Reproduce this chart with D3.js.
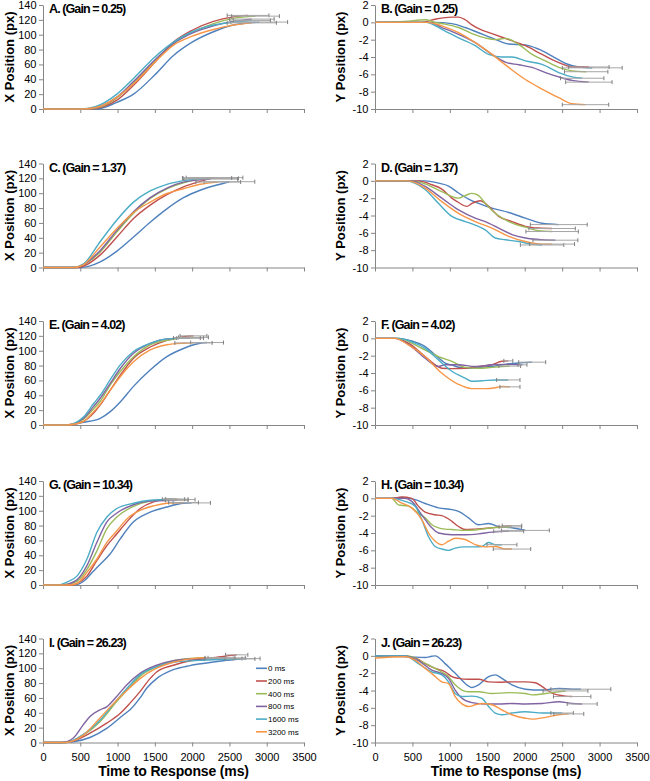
<!DOCTYPE html>
<html><head><meta charset="utf-8">
<script src="https://cdn.jsdelivr.net/npm/d3@7"></script>
<style>body{margin:0;background:#fff} svg{display:block} text{font-family:Arial,"Liberation Sans",sans-serif}</style>
</head><body><svg id="c" width="650" height="781"></svg>
<script>
const seriesNames = ["0 ms","200 ms","400 ms","800 ms","1600 ms","3200 ms"];
const seriesColors = ["#4F81BD","#C0504D","#9BBB59","#8064A2","#4BACC6","#F79646"];
const panelTitles = ["A. (Gain = 0.25)","B. (Gain = 0.25)","C. (Gain = 1.37)","D. (Gain = 1.37)","E. (Gain = 4.02)","F. (Gain = 4.02)","G. (Gain = 10.34)","H. (Gain = 10.34)","I. (Gain = 26.23)","J. (Gain = 26.23)"];
const timeTicks = [0,500,1000,1500,2000,2500,3000,3500];
const xPosTicks = [0,20,40,60,80,100,120,140];
const yPosTicks = [-10,-8,-6,-4,-2,0,2];

const panelA = [
 [[0,0],[720,0],[990,9],[1214,20],[1500,46],[1750,72],[2000,90],[2286,104],[2553,113],[2900,117]],
 [[0,0],[630,0],[800,3],[991,12],[1214,32],[1500,63],[1750,90],[2000,106],[2286,118],[2553,124],[2750,126]],
 [[0,0],[600,0],[800,4],[991,15],[1214,35],[1500,65],[1750,88],[2000,103],[2286,115],[2553,122],[2850,125]],
 [[0,0],[580,0],[800,5],[991,16],[1214,37],[1500,66],[1750,88],[2000,102],[2286,112],[2553,118],[2800,121]],
 [[0,0],[500,0],[700,3],[991,20],[1214,41],[1500,70],[1750,90],[2000,104],[2286,113],[2553,117],[2800,119]],
 [[0,0],[550,0],[800,5],[991,16],[1214,34],[1500,63],[1750,86],[2000,98],[2286,107],[2553,113],[2800,116]]
];
const errA = [380,280,320,300,250,330];

const panelB = [
 [[0,0],[800,0],[1027,-0.15],[1205,-0.6],[1384,-1.2],[1562,-1.8],[1786,-2.5],[2009,-2.6],[2187,-3.1],[2366,-3.9],[2545,-4.75],[2723,-5.15],[2902,-5.25]],
 [[0,0],[620,0],[800,0.35],[1027,0.6],[1116,0.6],[1205,0.3],[1295,-0.3],[1428,-0.9],[1562,-1.3],[1786,-2.0],[2009,-2.7],[2232,-3.7],[2455,-4.65],[2634,-5.15],[2857,-5.15]],
 [[0,0],[400,0.1],[670,0.3],[804,0],[937,-0.2],[1116,-0.6],[1295,-1.3],[1473,-1.8],[1607,-2.0],[1741,-1.85],[1920,-2.55],[2098,-3.7],[2277,-4.45],[2455,-5.2],[2634,-5.6],[2821,-5.7]],
 [[0,0],[720,0],[893,-0.6],[1116,-1.4],[1339,-2.35],[1562,-3.7],[1741,-4.6],[1920,-4.9],[2098,-5.2],[2277,-5.8],[2455,-6.3],[2634,-6.7],[2857,-6.9]],
 [[0,0],[680,0],[893,-0.8],[1116,-1.8],[1339,-2.7],[1518,-3.7],[1696,-4.0],[1830,-4.0],[2009,-4.45],[2232,-4.85],[2455,-5.8],[2634,-6.3],[2768,-6.45]],
 [[0,0],[700,0],[893,-0.4],[1116,-1.2],[1339,-2.35],[1562,-3.7],[1786,-5.2],[2009,-6.6],[2232,-7.7],[2455,-8.7],[2634,-9.4],[2812,-9.5]]
];
const errB = [400,270,290,310,290,310];

const panelC = [
 [[0,0],[500,0],[768,7.6],[991,22],[1214,41],[1437,61],[1661,79],[1884,94],[2107,104],[2330,111],[2500,115.5]],
 [[0,0],[450,0],[545,2],[768,17],[991,41],[1214,66],[1437,84],[1661,98],[1884,108.6],[2107,116],[2300,121]],
 [[0,0],[400,0],[545,4],[768,21],[991,48],[1214,73],[1437,93],[1661,106],[1884,114],[2107,119],[2250,120]],
 [[0,0],[400,0],[545,4],[768,23],[991,50],[1214,75],[1437,94],[1661,107],[1884,115],[2250,119]],
 [[0,0],[400,0],[545,5],[768,35],[991,64],[1214,88],[1437,103],[1661,112],[1884,117],[2200,120.5]],
 [[0,0],[400,0],[545,4],[768,28],[991,52.5],[1214,74],[1437,88],[1661,99.6],[1884,106],[2107,112],[2350,115]]
];
const errC = [340,380,370,360,330,300];

const panelD = [
 [[0,0],[670,0],[848,-0.27],[982,-0.6],[1116,-1.4],[1250,-2.1],[1384,-2.6],[1562,-3.15],[1786,-3.65],[2009,-4.3],[2232,-4.9],[2455,-5.05]],
 [[0,0],[580,0],[759,-0.45],[893,-0.95],[1027,-2.0],[1116,-2.5],[1228,-2.95],[1295,-2.6],[1406,-2.3],[1518,-2.95],[1652,-4.1],[1830,-4.7],[2009,-5.25],[2187,-5.45],[2366,-5.5]],
 [[0,0],[491,0],[670,-0.35],[893,-1.25],[1116,-2.0],[1205,-1.7],[1295,-1.45],[1384,-1.7],[1473,-2.6],[1607,-3.75],[1786,-4.7],[2009,-5.35],[2187,-5.75],[2366,-5.85]],
 [[0,0],[491,0],[670,-0.65],[893,-2.0],[1116,-3.35],[1339,-4.3],[1473,-4.7],[1652,-5.45],[1830,-6.2],[2009,-6.6],[2232,-6.8],[2410,-6.85]],
 [[0,0],[402,0],[670,-1.0],[848,-2.6],[1027,-4.1],[1205,-4.7],[1339,-5.1],[1473,-5.65],[1607,-6.6],[1741,-6.8],[1920,-7.0],[2098,-7.3],[2232,-7.4]],
 [[0,0],[446,0],[670,-0.85],[893,-2.4],[1116,-3.75],[1339,-4.7],[1562,-5.45],[1786,-6.4],[2009,-7.0],[2232,-7.3],[2366,-7.3]]
];
const errD = [380,310,350,300,290,300];

const panelE = [
 [[0,0],[321,0],[545,3.6],[768,9],[902,18],[1036,31],[1214,52],[1437,74],[1661,92],[1884,103],[2107,110],[2200,111]],
 [[0,0],[321,0],[545,5],[679,16],[768,27],[902,47],[1036,67],[1214,90],[1437,105],[1661,114],[1884,119],[2018,120]],
 [[0,0],[321,0],[545,8],[679,22],[768,32],[902,54],[1036,72],[1214,92],[1437,108],[1661,114],[1884,117.5],[2018,118]],
 [[0,0],[321,0],[545,9],[679,25],[768,36],[902,56],[1036,76],[1214,96.5],[1437,110],[1661,116],[1884,117],[1973,117]],
 [[0,0],[321,0],[545,11],[679,29],[768,40],[902,61],[1036,81],[1214,99],[1437,110],[1661,116],[1929,117]],
 [[0,0],[321,0],[545,5],[679,18],[768,28],[902,47],[1036,65],[1214,85],[1437,101],[1661,108],[1884,110],[2018,110.5]]
];
const errE = [220,180,200,180,180,250];

const panelF = [
 [[0,0],[312,0],[491,-0.3],[670,-0.95],[804,-1.9],[937,-2.85],[1027,-3.1],[1205,-3.45],[1384,-3.35],[1562,-3.25],[1741,-3.0],[1920,-2.85],[2100,-2.75]],
 [[0,0],[268,0],[446,-0.55],[670,-2.1],[804,-3.05],[893,-3.45],[1027,-3.5],[1205,-3.45],[1384,-3.25],[1562,-3.05],[1696,-2.65],[1781,-2.6]],
 [[0,0],[312,0],[491,-0.55],[670,-1.35],[848,-2.1],[1027,-2.65],[1205,-3.35],[1384,-3.45],[1562,-3.35],[1800,-3.2]],
 [[0,0],[268,0],[446,-0.7],[670,-2.3],[848,-3.25],[937,-3.05],[1116,-3.05],[1339,-3.25],[1562,-3.05],[1741,-3.0],[1970,-3.05]],
 [[0,0],[312,0],[491,-0.4],[670,-1.15],[848,-2.5],[1027,-3.8],[1205,-4.6],[1291,-4.95],[1428,-4.9],[1607,-4.8],[1781,-4.8]],
 [[0,0],[268,0],[446,-0.75],[668,-2.1],[890,-4.0],[1113,-5.3],[1291,-5.8],[1473,-5.8],[1607,-5.7],[1700,-5.55],[1803,-5.6]]
];
const errF = [180,60,145,60,156,134];

const panelG = [
 [[0,0],[411,0],[545,5],[679,19],[768,28],[902,42],[1036,62],[1214,85],[1437,98],[1661,105],[1884,110],[1995,110.5]],
 [[0,0],[380,0],[455,2],[589,12],[723,33],[857,53],[991,69],[1125,85],[1304,103],[1482,112],[1661,115.5],[1795,115.5]],
 [[0,0],[250,0],[455,5],[589,21],[723,46],[857,76],[991,91.5],[1214,106],[1437,113],[1661,115],[1839,115]],
 [[0,0],[250,0],[455,7],[589,26],[723,57.5],[857,85],[991,97],[1214,108],[1437,113],[1795,114]],
 [[0,0],[200,0],[321,4],[455,12],[589,35],[723,71],[857,91.5],[991,103],[1214,110],[1437,114],[1750,115.5]],
 [[0,0],[350,0],[455,2],[589,17],[723,35],[857,57.5],[991,73],[1125,89],[1304,100.5],[1482,106.5],[1661,110],[1884,111]]
];
const errG = [250,150,200,150,150,200];

const panelH = [
 [[0,0],[223,0],[357,0.1],[536,-0.15],[670,-0.6],[848,-1.1],[1027,-1.3],[1116,-1.5],[1250,-2.25],[1384,-3.05],[1518,-2.9],[1652,-3.25],[1830,-3.4],[2009,-3.7]],
 [[0,0],[223,0],[357,0.15],[491,0],[580,-0.9],[670,-1.6],[804,-1.9],[893,-2.0],[1027,-2.65],[1116,-3.25],[1205,-3.6],[1339,-3.55],[1562,-3.4],[1696,-3.25],[1830,-3.15]],
 [[0,0],[223,0],[312,-0.75],[446,-0.9],[580,-1.7],[670,-2.25],[759,-3.05],[848,-3.4],[937,-3.55],[1027,-3.6],[1205,-3.7],[1384,-3.6],[1562,-3.4],[1741,-3.3],[1808,-3.3]],
 [[0,0],[402,0],[491,-0.35],[625,-1.9],[759,-3.4],[848,-4.0],[1027,-4.2],[1205,-4.2],[1384,-4.1],[1562,-3.9],[1741,-3.8],[1786,-3.8]],
 [[0,0],[223,0],[402,-0.35],[536,-0.9],[625,-2.45],[714,-4.4],[804,-5.55],[893,-5.85],[982,-6.0],[1071,-5.75],[1205,-5.6],[1339,-5.6],[1428,-5.55],[1518,-5.1],[1607,-5.35],[1696,-5.35]],
 [[0,0],[223,0],[357,-0.55],[491,-1.1],[625,-2.45],[714,-4.0],[804,-4.95],[893,-5.35],[982,-4.95],[1071,-4.6],[1205,-4.75],[1339,-5.35],[1473,-5.6],[1607,-5.55],[1741,-5.85],[1830,-5.85]]
];
const errH = [320,130,150,200,200,250];

const panelI = [
 [[0,0],[300,0],[407,1],[630,6.7],[854,19],[1077,37],[1167,44],[1301,60],[1390,73],[1524,86],[1748,98],[1971,103.5],[2195,107],[2418,110],[2642,112.5],[2731,113]],
 [[0,0],[250,0],[407,2],[630,12.5],[854,26],[1033,39],[1167,53],[1301,68.5],[1435,86],[1524,95],[1748,104],[1971,110],[2195,113],[2418,116],[2597,118]],
 [[0,0],[300,0],[541,10],[764,28],[988,55],[1167,75],[1301,89],[1524,102],[1748,110],[1971,113],[2195,114],[2463,114]],
 [[0,0],[250,0],[407,6],[541,24],[630,35],[764,44],[854,48],[988,62],[1122,77.5],[1301,93],[1524,104],[1748,110],[1971,112.5],[2418,113]],
 [[0,0],[300,0],[541,11],[764,30],[988,57],[1167,77.5],[1301,91],[1524,102],[1748,108],[2195,111],[2642,112.5]],
 [[0,0],[300,0],[541,10],[764,33],[988,57],[1167,74],[1301,86],[1524,100],[1748,108],[1971,112.5],[2195,114],[2374,114]]
];
const errI = [180,150,250,250,200,200];

const panelJ = [
 [[0,0],[446,-0.1],[670,-0.2],[759,-0.05],[804,0],[937,-0.9],[1027,-1.65],[1116,-2.4],[1205,-3.2],[1295,-3.65],[1384,-3.35],[1518,-2.4],[1607,-2.2],[1696,-2.6],[1830,-3.35],[2009,-3.85],[2232,-3.95],[2455,-3.75],[2634,-3.85],[2750,-3.85]],
 [[0,0],[312,0],[446,-0.1],[580,-0.4],[670,-0.9],[804,-1.45],[937,-1.85],[1027,-2.4],[1116,-2.6],[1250,-2.7],[1384,-2.7],[1518,-3.0],[1652,-3.05],[1830,-3.0],[2009,-3.0],[2143,-3.1],[2232,-3.55],[2366,-4.3],[2545,-4.65],[2634,-4.7]],
 [[0,0],[446,0],[580,-0.5],[714,-1.05],[848,-1.65],[982,-2.4],[1071,-3.35],[1161,-3.95],[1250,-4.15],[1384,-4.15],[1562,-4.35],[1786,-4.25],[2009,-4.35],[2098,-4.5],[2277,-4.35],[2455,-4.15],[2545,-4.05]],
 [[0,0],[402,0],[580,-0.55],[759,-1.65],[893,-2.05],[982,-2.6],[1071,-3.95],[1161,-4.9],[1295,-5.4],[1473,-5.55],[1652,-5.55],[1830,-5.5],[2009,-5.55],[2232,-5.5],[2455,-5.3],[2634,-5.5],[2768,-5.55]],
 [[0,0],[402,0],[580,-0.9],[759,-1.85],[893,-2.2],[982,-3.0],[1071,-4.35],[1161,-4.7],[1295,-4.65],[1428,-4.9],[1518,-5.85],[1607,-6.6],[1696,-6.8],[1830,-6.6],[2009,-6.45],[2232,-6.6],[2455,-6.6],[2500,-6.6]],
 [[0,-0.25],[402,-0.1],[536,-0.5],[670,-1.45],[759,-2.05],[893,-3.0],[982,-3.2],[1071,-4.7],[1161,-5.55],[1250,-5.85],[1339,-5.65],[1428,-5.5],[1562,-5.65],[1696,-6.25],[1830,-6.8],[2009,-7.2],[2098,-7.3],[2277,-7.1],[2455,-6.8],[2589,-6.7]]
];
const errJ = [400,250,300,200,150,200];

const panelsData = [panelA,panelB,panelC,panelD,panelE,panelF,panelG,panelH,panelI,panelJ];
const panelsErr = [errA,errB,errC,errD,errE,errF,errG,errH,errI,errJ];

const svg = d3.select("#c");
const colX = [[43,304],[375,637]];
const rowTop = [5,163.5,321,481,638.5];
const plotH = 104;
const axisColor = "#868686";

panelsData.forEach((series, p) => {
  const col = p % 2, row = Math.floor(p / 2);
  const top = rowTop[row], bot = top + plotH;
  const x = d3.scaleLinear().domain([0,3500]).range(colX[col]);
  const y = col === 0 ? d3.scaleLinear().domain([0,140]).range([bot, top])
                      : d3.scaleLinear().domain([-10,2]).range([bot, top]);
  const g = svg.append("g");

  const ya = g.append("g").attr("transform", `translate(${colX[col][0]},0)`)
    .call(d3.axisLeft(y).tickValues(col === 0 ? xPosTicks : yPosTicks).tickSize(4).tickSizeOuter(0).tickPadding(2.5).tickFormat(d => d < 0 ? "-" + Math.abs(d) : d));
  const xa = g.append("g").attr("transform", `translate(0,${bot})`)
    .call(d3.axisBottom(x).tickValues(timeTicks).tickSize(4).tickSizeOuter(0).tickPadding(7).tickFormat(row === 4 ? d => d : () => ""));
  [ya, xa].forEach(a => {
    a.selectAll("path,line").attr("stroke", axisColor);
    a.selectAll("text").attr("fill", "#000").style("font-size", "11px").style("font-family", "Arial, 'Liberation Sans', sans-serif");
  });

  g.append("text")
    .attr("transform", `translate(${col === 0 ? 14 : 345},${(top + bot) / 2}) rotate(-90)`)
    .attr("text-anchor", "middle")
    .style("font-size", "13px").style("font-weight", "bold")
    .text(col === 0 ? "X Position (px)" : "Y Position (px)");

  g.append("text")
    .attr("x", colX[col][0] + 6).attr("y", top + 8)
    .style("font-size", "12.5px").style("font-weight", "bold").style("letter-spacing", "-0.9px")
    .text(panelTitles[p]);

  const line = d3.line().x(d => x(d[0])).y(d => y(d[1])).curve(d3.curveMonotoneX);
  series.forEach((pts, s) => {
    g.append("path").attr("d", line(pts)).attr("fill", "none")
      .attr("stroke", seriesColors[s]).attr("stroke-width", 1.4);
  });
  series.forEach((pts, s) => {
    const last = pts[pts.length - 1];
    const h = panelsErr[p][s];
    const yy = y(last[1]);
    const x1 = x(last[0] - h), x2 = x(last[0] + h);
    g.append("line").attr("x1", x1).attr("x2", x2).attr("y1", yy).attr("y2", yy)
      .attr("stroke", "#a6a6a6").attr("stroke-width", 1);
    [x1, x2].forEach(xx => g.append("line").attr("x1", xx).attr("x2", xx)
      .attr("y1", yy - 2).attr("y2", yy + 2).attr("stroke", "#7f7f7f").attr("stroke-width", 1));
  });

  if (row === 4) {
    g.append("text").attr("x", (colX[col][0] + colX[col][1]) / 2).attr("y", 776)
      .attr("text-anchor", "middle").style("font-size", "14px").style("font-weight", "bold")
      .style("letter-spacing", "-0.15px").text("Time to Response (ms)");
  }
  if (p === 8) {
    const lg = g.append("g");
    seriesNames.forEach((n, s) => {
      const ly = 668.3 + s * 12.7;
      lg.append("line").attr("x1", 256).attr("x2", 267).attr("y1", ly).attr("y2", ly)
        .attr("stroke", seriesColors[s]).attr("stroke-width", 1.6);
      lg.append("text").attr("x", 268).attr("y", ly + 3).style("font-size", "8px").text(n);
    });
  }
});
</script></body></html>
